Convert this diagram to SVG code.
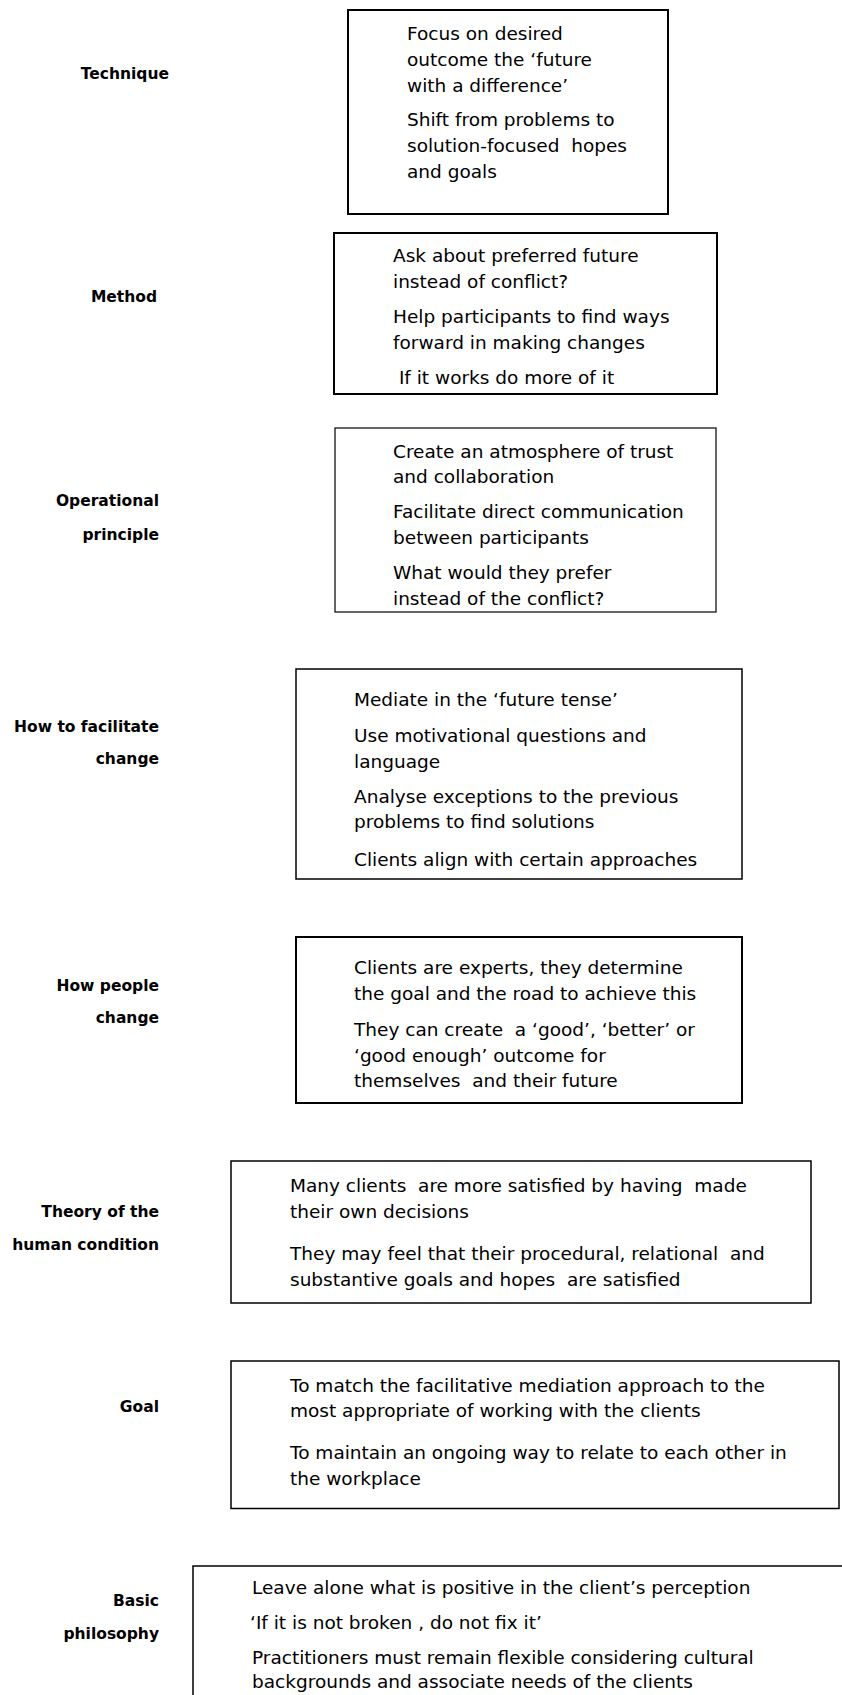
<svg xmlns="http://www.w3.org/2000/svg" width="842" height="1695" viewBox="0 0 842 1695">
<style>
.bg{fill:#ffffff}
.box{fill:#ffffff;stroke:#000000}
.lbl{font-family:"DejaVu Sans","Verdana",sans-serif;font-weight:bold;font-size:15.5px;fill:#000;text-anchor:end}
.txt{font-family:"DejaVu Sans","Verdana",sans-serif;font-size:18.5px;fill:#000;white-space:pre}
</style>
<rect class="bg" x="0" y="0" width="842" height="1695"/>
<g id="connectors"/>
<g id="technique">
<text class="lbl" x="169" y="79">Technique</text>
<rect class="box" x="348" y="10" width="320" height="204" stroke-width="2"/>
<text class="txt" xml:space="preserve"><tspan x="407" y="40">Focus on desired</tspan><tspan x="407" y="66">outcome the ‘future</tspan><tspan x="407" y="92">with a difference’</tspan><tspan x="407" y="126">Shift from problems to</tspan><tspan x="407" y="152">solution-focused  hopes</tspan><tspan x="407" y="178">and goals</tspan></text>
</g>
<g id="method">
<text class="lbl" x="157" y="301.5">Method</text>
<rect class="box" x="334" y="233" width="383" height="161" stroke-width="2"/>
<text class="txt" xml:space="preserve"><tspan x="393" y="262">Ask about preferred future</tspan><tspan x="393" y="288">instead of conflict?</tspan><tspan x="393" y="323">Help participants to find ways</tspan><tspan x="393" y="348.5">forward in making changes</tspan><tspan x="393" y="384"> If it works do more of it</tspan></text>
</g>
<g id="operational-principle">
<text class="lbl"><tspan x="159" y="506">Operational</tspan><tspan x="159" y="540">principle</tspan></text>
<rect class="box" x="335" y="428" width="381" height="184" stroke-width="1.2"/>
<text class="txt" xml:space="preserve"><tspan x="393" y="457.5">Create an atmosphere of trust</tspan><tspan x="393" y="483">and collaboration</tspan><tspan x="393" y="518">Facilitate direct communication</tspan><tspan x="393" y="543.7">between participants</tspan><tspan x="393" y="579">What would they prefer</tspan><tspan x="393" y="605">instead of the conflict?</tspan></text>
</g>
<g id="how-to-facilitate-change">
<text class="lbl"><tspan x="159" y="732">How to facilitate</tspan><tspan x="159" y="764">change</tspan></text>
<rect class="box" x="296" y="669" width="446" height="210" stroke-width="1.5"/>
<text class="txt" xml:space="preserve"><tspan x="354" y="706">Mediate in the ‘future tense’</tspan><tspan x="354" y="742">Use motivational questions and</tspan><tspan x="354" y="767.5">language</tspan><tspan x="354" y="803">Analyse exceptions to the previous</tspan><tspan x="354" y="828">problems to find solutions</tspan><tspan x="354" y="866">Clients align with certain approaches</tspan></text>
</g>
<g id="how-people-change">
<text class="lbl"><tspan x="159" y="990.5">How people</tspan><tspan x="159" y="1023">change</tspan></text>
<rect class="box" x="296" y="937" width="446" height="166" stroke-width="2"/>
<text class="txt" xml:space="preserve"><tspan x="354" y="974">Clients are experts, they determine</tspan><tspan x="354" y="999.6">the goal and the road to achieve this</tspan><tspan x="354" y="1036">They can create  a ‘good’, ‘better’ or</tspan><tspan x="354" y="1062">‘good enough’ outcome for</tspan><tspan x="354" y="1087.4">themselves  and their future</tspan></text>
</g>
<g id="theory-of-the-human-condition">
<text class="lbl"><tspan x="159" y="1217">Theory of the</tspan><tspan x="159" y="1249.6">human condition</tspan></text>
<rect class="box" x="231" y="1161" width="580" height="142" stroke-width="1.5"/>
<text class="txt" xml:space="preserve"><tspan x="290" y="1192">Many clients  are more satisfied by having  made</tspan><tspan x="290" y="1218">their own decisions</tspan><tspan x="290" y="1260">They may feel that their procedural, relational  and</tspan><tspan x="290" y="1286">substantive goals and hopes  are satisfied</tspan></text>
</g>
<g id="goal">
<text class="lbl" x="159" y="1411.6">Goal</text>
<rect class="box" x="231" y="1361" width="608" height="147.5" stroke-width="1.5"/>
<text class="txt" xml:space="preserve"><tspan x="290" y="1391.5">To match the facilitative mediation approach to the</tspan><tspan x="290" y="1417">most appropriate of working with the clients</tspan><tspan x="290" y="1459">To maintain an ongoing way to relate to each other in</tspan><tspan x="290" y="1485">the workplace</tspan></text>
</g>
<g id="basic-philosophy">
<text class="lbl"><tspan x="159" y="1605.7">Basic</tspan><tspan x="159" y="1639">philosophy</tspan></text>
<rect class="box" x="193" y="1566" width="660" height="140" stroke-width="1.5"/>
<text class="txt" xml:space="preserve"><tspan x="252" y="1594">Leave alone what is positive in the client’s perception</tspan><tspan x="250" y="1629">‘If it is not broken , do not fix it’</tspan><tspan x="252" y="1664">Practitioners must remain flexible considering cultural</tspan><tspan x="252" y="1688">backgrounds and associate needs of the clients</tspan></text>
</g>
</svg>
